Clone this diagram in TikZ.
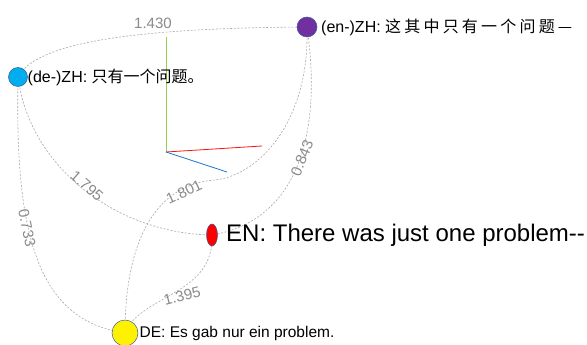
\documentclass[tikz,border=0pt]{standalone}
\usepackage{fontspec}
\setmainfont{Liberation Sans}
\newfontfamily\cjk{Noto Sans CJK SC}
\usetikzlibrary{backgrounds,shapes.geometric}
\definecolor{cyanC}{HTML}{00AEEF}
\definecolor{purpleC}{HTML}{7030A0}
\definecolor{rimC}{HTML}{3A5A9A}
\definecolor{edgeC}{HTML}{A8A8A8}
\definecolor{elabC}{HTML}{8A8A8A}
\definecolor{axG}{HTML}{8FD14F}
\definecolor{axR}{HTML}{FF1010}
\definecolor{axB}{HTML}{1B75CC}
\newcommand{\gp}{\hspace{3.2pt}}
\begin{document}
\begin{tikzpicture}[x=1pt,y=-1pt,
  edge/.style={draw=edgeC, dash pattern=on 2pt off 1.6pt, line width=0.6pt},
  elabel/.style={text=elabC, font=\fontsize{15}{15}\selectfont, inner sep=0pt},
  vert/.style={draw=rimC, line width=0.5pt, inner sep=0pt},
  lbl/.style={anchor=west, inner sep=0pt, font=\fontsize{16}{18}\selectfont},
  axis/.style={line width=0.8pt}]
\useasboundingbox (0,0) rectangle (587,345);

% vertices
\node[vert, circle, fill=cyanC, minimum size=19pt] (deZH) at (18,77) {};
\node[vert, circle, fill=purpleC, minimum size=20pt] (enZH) at (307,27) {};
\node[vert, ellipse, fill=red, minimum width=11pt, minimum height=22pt] (EN) at (212,235) {};
\node[vert, circle, fill=yellow, minimum size=26pt] (DE) at (125,333) {};

% vertex labels
\node[lbl] (deZHt) at (27.5,77) {(de-)ZH: {\cjk 只有一个问题。}};
\node[lbl] (enZHt) at (321,27) {(en-)ZH: {\cjk 这\gp 其\gp 中\gp 只\gp 有\gp 一\gp 个\gp 问\gp 题\gp —}};
\node[lbl, font=\fontsize{24}{28}\selectfont] (ENt) at (226,235) {EN: There was just one problem\mbox{-}\mbox{-}};
\node[lbl, font=\fontsize{15.5}{18}\selectfont] (DEt) at (139.5,333) {DE: Es gab nur ein problem.};

% axes
\coordinate (O) at (166,152);
\coordinate (AxG) at (166,37);
\coordinate (AxR) at (262,146);
\coordinate (AxB) at (227,172);
\coordinate (m1801) at (215,180);

\begin{scope}[on background layer]
  \draw[axis, axG] (O) -- (AxG);
  \draw[axis, axR] (O) -- (AxR);
  \draw[axis, axB] (O) -- (AxB);
  \draw[edge] (deZH.center) .. controls (35,45) and (120,28) .. (enZH.center);
  \draw[edge] (deZH.center) .. controls (30,170) and (120,234) .. (EN.center);
  \draw[edge] (deZH.center) .. controls (15,230) and (35,320) .. (DE.center);
  \draw[edge] (DE.center) .. controls (125,250) and (150,185) .. (m1801)
              .. controls (260,175) and (310,120) .. (enZH.center);
  \draw[edge] (enZH.center) .. controls (322,130) and (300,220) .. (EN.center);
  \draw[edge] (DE.center) .. controls (140,295) and (215,295) .. (EN.center);
\end{scope}

% edge labels
\node[elabel] (l1430) at (153,23) {1.430};
\node[elabel, rotate=-41] (l1795) at (87,186) {1.795};
\node[elabel, rotate=-78] (l0733) at (27,228) {0.733};
\node[elabel, rotate=25] (l1801) at (184,192) {1.801};
\node[elabel, rotate=14] (l1395) at (182,296) {1.395};
\node[elabel, rotate=68] (l0843) at (302,158) {0.843};
\end{tikzpicture}
\end{document}
